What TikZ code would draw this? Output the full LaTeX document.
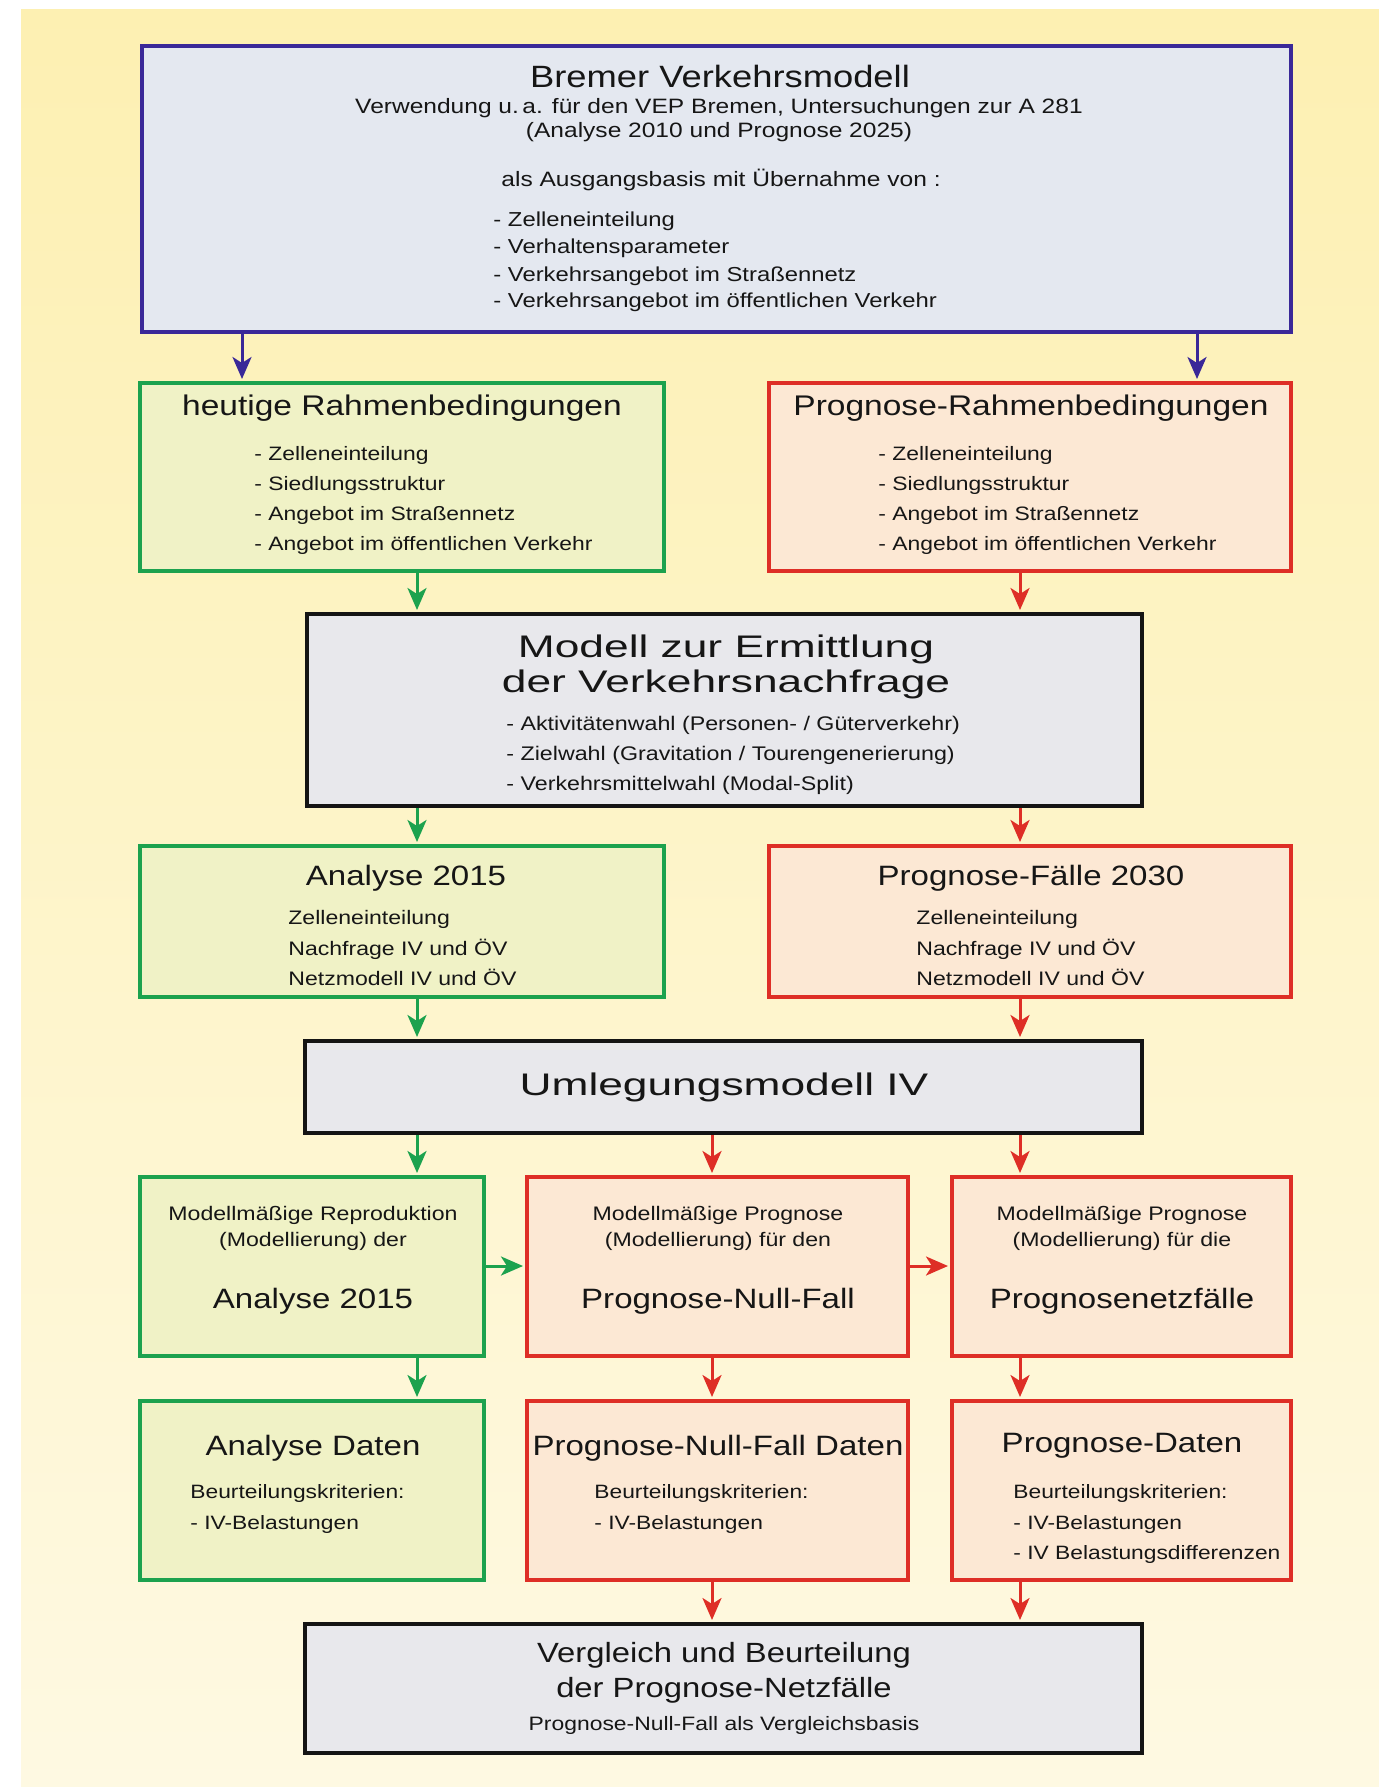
\documentclass[tikz,border=0pt]{standalone}
\usepackage{fontspec}
\setmainfont[FakeStretch=1.18]{Liberation Sans}
\newfontfamily\lsfont[FakeStretch=1.42]{Liberation Sans}
\usetikzlibrary{arrows.meta,fit}
\newcommand\myfs[1]{\fontsize{#1}{#1}\selectfont}
\definecolor{bgtop}{RGB}{253,240,178}
\definecolor{bgbot}{RGB}{254,249,226}
\definecolor{bluec}{RGB}{58,40,152}
\definecolor{bluef}{RGB}{228,232,240}
\definecolor{greenc}{RGB}{28,162,78}
\definecolor{greenf}{RGB}{240,242,198}
\definecolor{redc}{RGB}{222,46,38}
\definecolor{redf}{RGB}{252,232,212}
\definecolor{blackc}{RGB}{20,20,20}
\definecolor{grayf}{RGB}{232,232,236}
\definecolor{textc}{RGB}{22,22,22}
\tikzset{
  boxbase/.style={inner sep=0pt, line width=2.4pt},
  bluebox/.style={boxbase, draw=bluec, fill=bluef},
  greenbox/.style={boxbase, draw=greenc, fill=greenf},
  redbox/.style={boxbase, draw=redc, fill=redf},
  blackbox/.style={boxbase, draw=blackc, fill=grayf},
  txt/.style={inner sep=0pt, text=textc, anchor=base},
  txtl/.style={inner sep=0pt, text=textc, anchor=base west},
  arr/.style={line width=1.5pt, -{Stealth[length=11pt,width=9.5pt,inset=3pt]}, shorten >=0.8pt},
  garr/.style={arr, draw=greenc, fill=greenc},
  rarr/.style={arr, draw=redc, fill=redc},
  barr/.style={arr, draw=bluec, fill=bluec},
}
\begin{document}
\begin{tikzpicture}[x=0.5pt,y=-0.5pt]
\useasboundingbox (0,0) rectangle (1379,1787);
\fill[white] (0,0) rectangle (1379,1787);
\shade[top color=bgtop, bottom color=bgbot] (21,10) rectangle (1379,1787);

% x positions of vertical connectors
\coordinate (xa) at (242,0);
\coordinate (xb) at (1197,0);
\coordinate (xg) at (417,0);
\coordinate (xr) at (1020,0);
\coordinate (xm) at (712,0);
\coordinate (yh) at (0,1266);

% boxes
\node[bluebox, fit={(142,46) (1291,332)}] (top) {};
\node[greenbox, fit={(140,383) (664,571)}] (heut) {};
\node[redbox, fit={(769,383) (1291,571)}] (progr) {};
\node[blackbox, fit={(307,614) (1142,806)}] (modell) {};
\node[greenbox, fit={(140,846) (664,997)}] (ana) {};
\node[redbox, fit={(769,846) (1291,997)}] (pf) {};
\node[blackbox, fit={(305,1041) (1142,1133)}] (uml) {};
\node[greenbox, fit={(140,1177) (484,1356)}] (repro) {};
\node[redbox, fit={(527,1177) (908,1356)}] (null) {};
\node[redbox, fit={(952,1177) (1291,1356)}] (netz) {};
\node[greenbox, fit={(140,1401) (484,1580)}] (anad) {};
\node[redbox, fit={(527,1401) (908,1580)}] (nulld) {};
\node[redbox, fit={(952,1401) (1291,1580)}] (progd) {};
\node[blackbox, fit={(305,1624) (1142,1753)}] (verg) {};

% top box texts
\node[txt, font=\myfs{15.4}] (t1) at (720,88) {Bremer Verkehrsmodell};
\node[txt, font=\myfs{10.4}] (t2) at (719,114) {Verwendung u.\,a. für den VEP Bremen, Untersuchungen zur A 281};
\node[txt, font=\myfs{10.4}] (t3) at (719,138) {(Analyse 2010 und Prognose 2025)};
\node[txtl, font=\myfs{10.4}] (t4) at (501,187) {als Ausgangsbasis mit Übernahme von :};
\node[txtl, font=\myfs{10.1}] (t5) at (493,227) {- Zelleneinteilung};
\node[txtl, font=\myfs{10.1}] (t6) at (493,254) {- Verhaltensparameter};
\node[txtl, font=\myfs{10.1}] (t7) at (493,281) {- Verkehrsangebot im Straßennetz};
\node[txtl, font=\myfs{10.1}] (t8) at (493,307) {- Verkehrsangebot im öffentlichen Verkehr};

% heutige
\node[txt, font=\myfs{14.2}] (h1) at (402,415) {heutige Rahmenbedingungen};
\node[txtl, font=\myfs{9.7}] (h2) at (254,460) {- Zelleneinteilung};
\node[txtl, font=\myfs{9.7}] (h3) at (254,490) {- Siedlungsstruktur};
\node[txtl, font=\myfs{9.7}] (h4) at (254,520) {- Angebot im Straßennetz};
\node[txtl, font=\myfs{9.7}] (h5) at (254,550) {- Angebot im öffentlichen Verkehr};

% prognose rahmen
\node[txt, font=\myfs{14.2}] (p1) at (1031,415) {Prognose-Rahmenbedingungen};
\node[txtl, font=\myfs{9.7}] (p2) at (878,460) {- Zelleneinteilung};
\node[txtl, font=\myfs{9.7}] (p3) at (878,490) {- Siedlungsstruktur};
\node[txtl, font=\myfs{9.7}] (p4) at (878,520) {- Angebot im Straßennetz};
\node[txtl, font=\myfs{9.7}] (p5) at (878,550) {- Angebot im öffentlichen Verkehr};

% modell
\node[txt, font=\lsfont\myfs{15.6}] (m1) at (726,657) {Modell zur Ermittlung};
\node[txt, font=\lsfont\myfs{15.6}] (m2) at (726,692) {der Verkehrsnachfrage};
\node[txtl, font=\myfs{9.85}] (m3) at (506,730) {- Aktivitätenwahl (Personen- / Güterverkehr)};
\node[txtl, font=\myfs{9.85}] (m4) at (506,760) {- Zielwahl (Gravitation / Tourengenerierung)};
\node[txtl, font=\myfs{9.85}] (m5) at (506,790) {- Verkehrsmittelwahl (Modal-Split)};

% analyse 2015
\node[txt, font=\myfs{14}] (a1) at (406,885) {Analyse 2015};
\node[txtl, font=\myfs{9.77}] (a2) at (288,924) {Zelleneinteilung};
\node[txtl, font=\myfs{9.77}] (a3) at (288,955) {Nachfrage IV und ÖV};
\node[txtl, font=\myfs{9.77}] (a4) at (288,985) {Netzmodell IV und ÖV};

% prognose-faelle
\node[txt, font=\myfs{14}] (f1) at (1031,885) {Prognose-Fälle 2030};
\node[txtl, font=\myfs{9.77}] (f2) at (916,924) {Zelleneinteilung};
\node[txtl, font=\myfs{9.77}] (f3) at (916,955) {Nachfrage IV und ÖV};
\node[txtl, font=\myfs{9.77}] (f4) at (916,985) {Netzmodell IV und ÖV};

% umlegung
\node[txt, font=\lsfont\myfs{15.6}] (u1) at (724,1095) {Umlegungsmodell IV};

% repro
\node[txt, font=\myfs{9.8}] (r1) at (313,1220) {Modellmäßige Reproduktion};
\node[txt, font=\myfs{9.8}] (r2) at (313,1246) {(Modellierung) der};
\node[txt, font=\myfs{14}] (r3) at (313,1308) {Analyse 2015};

% null-fall
\node[txt, font=\myfs{9.8}] (n1) at (718,1220) {Modellmäßige Prognose};
\node[txt, font=\myfs{9.8}] (n2) at (718,1246) {(Modellierung) für den};
\node[txt, font=\myfs{14}] (n3) at (718,1308) {Prognose-Null-Fall};

% netzfaelle
\node[txt, font=\myfs{9.8}] (z1) at (1122,1220) {Modellmäßige Prognose};
\node[txt, font=\myfs{9.8}] (z2) at (1122,1246) {(Modellierung) für die};
\node[txt, font=\myfs{14}] (z3) at (1122,1308) {Prognosenetzfälle};

% analyse daten
\node[txt, font=\myfs{14}] (d1) at (313,1455) {Analyse Daten};
\node[txtl, font=\myfs{9.66}] (d2) at (190,1498) {Beurteilungskriterien:};
\node[txtl, font=\myfs{9.66}] (d3) at (190,1529) {- IV-Belastungen};

% null-fall daten
\node[txt, font=\myfs{14}] (e1) at (718,1455) {Prognose-Null-Fall Daten};
\node[txtl, font=\myfs{9.66}] (e2) at (594,1498) {Beurteilungskriterien:};
\node[txtl, font=\myfs{9.66}] (e3) at (594,1529) {- IV-Belastungen};

% prognose daten
\node[txt, font=\myfs{14}] (g1) at (1122,1452) {Prognose-Daten};
\node[txtl, font=\myfs{9.66}] (g2) at (1013,1498) {Beurteilungskriterien:};
\node[txtl, font=\myfs{9.66}] (g3) at (1013,1529) {- IV-Belastungen};
\node[txtl, font=\myfs{9.66}] (g4) at (1013,1559) {- IV Belastungsdifferenzen};

% vergleich
\node[txt, font=\myfs{13.9}] (v1) at (724,1662) {Vergleich und Beurteilung};
\node[txt, font=\myfs{13.9}] (v2) at (724,1697) {der Prognose-Netzfälle};
\node[txt, font=\myfs{9.7}] (v3) at (724,1730) {Prognose-Null-Fall als Vergleichsbasis};

% connectors
\draw[barr] (top.south -| xa) -- (heut.north -| xa);
\draw[barr] (top.south -| xb) -- (progr.north -| xb);
\draw[garr] (heut.south -| xg) -- (modell.north -| xg);
\draw[rarr] (progr.south -| xr) -- (modell.north -| xr);
\draw[garr] (modell.south -| xg) -- (ana.north -| xg);
\draw[rarr] (modell.south -| xr) -- (pf.north -| xr);
\draw[garr] (ana.south -| xg) -- (uml.north -| xg);
\draw[rarr] (pf.south -| xr) -- (uml.north -| xr);
\draw[garr] (uml.south -| xg) -- (repro.north -| xg);
\draw[rarr] (uml.south -| xm) -- (null.north -| xm);
\draw[rarr] (uml.south -| xr) -- (netz.north -| xr);
\draw[garr] (repro.east |- yh) -- (null.west |- yh);
\draw[rarr] (null.east |- yh) -- (netz.west |- yh);
\draw[garr] (repro.south -| xg) -- (anad.north -| xg);
\draw[rarr] (null.south -| xm) -- (nulld.north -| xm);
\draw[rarr] (netz.south -| xr) -- (progd.north -| xr);
\draw[rarr] (nulld.south -| xm) -- (verg.north -| xm);
\draw[rarr] (progd.south -| xr) -- (verg.north -| xr);
\end{tikzpicture}
\end{document}
